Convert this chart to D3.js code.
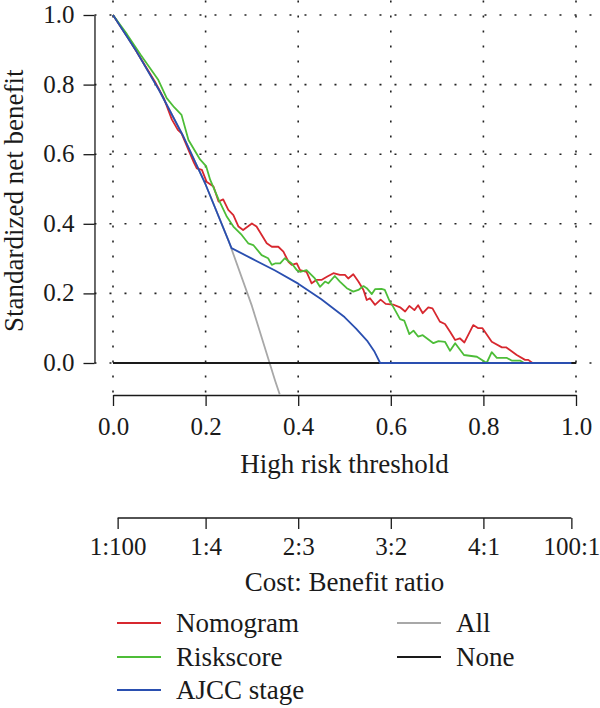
<!DOCTYPE html>
<html>
<head>
<meta charset="utf-8">
<script src="https://cdn.jsdelivr.net/npm/d3@7"></script>
<style>
  html, body { margin: 0; padding: 0; background: #fff; }
</style>
</head>
<body>
<div id="chart-container"></div>
<script>
// threshold / standardized net benefit pairs
const nomogram = [[0,1],[0.03,0.94],[0.06,0.875],[0.09,0.81],[0.11,0.76],[0.127,0.70],[0.14,0.67],[0.148,0.66],
  [0.163,0.612],[0.175,0.575],[0.181,0.559],[0.192,0.555],[0.202,0.521],[0.217,0.507],[0.228,0.464],[0.238,0.47],
  [0.249,0.44],[0.26,0.425],[0.271,0.392],[0.281,0.382],[0.30,0.401],[0.31,0.392],[0.332,0.344],[0.343,0.334],
  [0.357,0.334],[0.368,0.32],[0.379,0.291],[0.386,0.282],[0.397,0.286],[0.404,0.267],[0.418,0.262],[0.429,0.229],
  [0.44,0.239],[0.451,0.239],[0.462,0.248],[0.476,0.258],[0.49,0.253],[0.501,0.253],[0.508,0.243],[0.519,0.255],
  [0.53,0.234],[0.541,0.21],[0.548,0.181],[0.555,0.186],[0.566,0.167],[0.578,0.182],[0.589,0.17],[0.605,0.168],
  [0.62,0.16],[0.631,0.148],[0.64,0.164],[0.651,0.152],[0.659,0.166],[0.669,0.143],[0.681,0.16],[0.69,0.157],
  [0.706,0.119],[0.717,0.112],[0.728,0.09],[0.739,0.066],[0.749,0.071],[0.759,0.059],[0.778,0.109],[0.789,0.1],
  [0.798,0.1],[0.818,0.061],[0.84,0.045],[0.849,0.045],[0.872,0.023],[0.89,0.009],[0.897,0.009],[0.906,0]];

const riskscore = [[0,1],[0.03,0.945],[0.06,0.885],[0.098,0.813],[0.116,0.761],[0.132,0.735],[0.148,0.713],
  [0.163,0.641],[0.188,0.585],[0.201,0.566],[0.21,0.526],[0.228,0.47],[0.246,0.42],[0.26,0.392],[0.278,0.368],
  [0.292,0.344],[0.303,0.339],[0.321,0.31],[0.335,0.301],[0.343,0.282],[0.35,0.286],[0.361,0.286],[0.371,0.301],
  [0.386,0.286],[0.397,0.267],[0.404,0.262],[0.418,0.267],[0.436,0.243],[0.447,0.219],[0.458,0.234],[0.465,0.229],
  [0.479,0.25],[0.49,0.234],[0.505,0.215],[0.519,0.205],[0.53,0.21],[0.541,0.221],[0.548,0.215],[0.559,0.198],
  [0.566,0.212],[0.58,0.213],[0.587,0.21],[0.598,0.176],[0.605,0.162],[0.62,0.126],[0.629,0.122],[0.64,0.083],
  [0.649,0.093],[0.659,0.076],[0.669,0.08],[0.692,0.057],[0.703,0.063],[0.717,0.061],[0.728,0.035],[0.739,0.057],
  [0.758,0.023],[0.786,0.018],[0.807,0],[0.818,0.031],[0.829,0.015],[0.85,0.015],[0.861,0.007],[0.879,0.007],[0.888,0]];

const ajcc = [[0,1],[0.05,0.897],[0.10,0.783],[0.15,0.656],[0.20,0.513],[0.256,0.33],[0.30,0.30],[0.35,0.266],
  [0.40,0.228],[0.45,0.183],[0.50,0.132],[0.525,0.099],[0.55,0.062],[0.565,0.032],[0.577,0],[0.99,0]];

const treatAll = [[0,1],[0.05,0.897],[0.10,0.783],[0.15,0.656],[0.20,0.513],[0.25,0.35],[0.30,0.164],[0.35,-0.05],[0.36,-0.09]];

const treatNone = [[0,0],[1,0]];

const xTicks = [0, 0.2, 0.4, 0.6, 0.8, 1.0];
const yTicks = [0, 0.2, 0.4, 0.6, 0.8, 1.0];
const costTicks = [0.01, 0.2, 0.4, 0.6, 0.8, 0.99];
const costLabels = ["1:100", "1:4", "2:3", "3:2", "4:1", "100:1"];

const legendNames = ["Nomogram", "Riskscore", "AJCC stage", "All", "None"];
const legendColors = ["#d7282f", "#4dbd38", "#2a4fb0", "#a8a8a8", "#1a1a1a"];

// layout
const width = 600, height = 708;
const fontSize = 27;     // titles, legend
const tickFontSize = 25; // tick labels
const serif = "'Liberation Serif'";

const svg = d3.select("#chart-container").append("svg")
    .attr("width", width)
    .attr("height", height);

const x = d3.scaleLinear().domain([0, 1]).range([113, 576]);
const y = d3.scaleLinear().domain([0, 1]).range([363, 15]);

// plot region (R style 4% extension, ylim -0.05..1)
const px0 = x(-0.04), px1 = x(1.04);
const py0 = y(1.042), py1 = y(-0.092);

svg.append("clipPath").attr("id", "plot-clip")
  .append("rect")
    .attr("x", px0).attr("y", py0)
    .attr("width", px1 - px0).attr("height", py1 - py0);

// dotted grid
const grid = svg.append("g")
    .attr("stroke", "#222")
    .attr("stroke-width", 1.6)
    .attr("stroke-dasharray", "2,13");

grid.selectAll(".vgrid").data(xTicks).join("line")
    .attr("class", "vgrid")
    .attr("x1", d => x(d)).attr("x2", d => x(d))
    .attr("y1", py0).attr("y2", py1);

grid.selectAll(".hgrid").data(yTicks).join("line")
    .attr("class", "hgrid")
    .attr("y1", d => y(d)).attr("y2", d => y(d))
    .attr("x1", px0).attr("x2", px1);

// curves
const line = d3.line()
    .x(d => x(d[0]))
    .y(d => y(d[1]));

const curves = svg.append("g").attr("clip-path", "url(#plot-clip)")
    .attr("fill", "none")
    .attr("stroke-linejoin", "round");

curves.append("path").datum(treatAll)
    .attr("d", line).attr("stroke", legendColors[3]).attr("stroke-width", 1.8);
curves.append("path").datum(treatNone)
    .attr("d", line).attr("stroke", legendColors[4]).attr("stroke-width", 1.8);
curves.append("path").datum(nomogram)
    .attr("d", line).attr("stroke", legendColors[0]).attr("stroke-width", 1.8);
curves.append("path").datum(riskscore)
    .attr("d", line).attr("stroke", legendColors[1]).attr("stroke-width", 1.8);
curves.append("path").datum(ajcc)
    .attr("d", line).attr("stroke", legendColors[2]).attr("stroke-width", 1.8);

// text helper
function label(sel, size = fontSize) {
  return sel.style("font-family", serif)
    .style("font-size", size + "px")
    .attr("fill", "#1a1a1a");
}

// axes
function styleAxis(g) {
  g.selectAll("path, line").attr("stroke", "#1a1a1a").attr("stroke-width", 1.3);
  g.selectAll("text").call(label, tickFontSize);
}

const yAxis = svg.append("g")
    .attr("transform", `translate(${px0},0)`)
    .call(d3.axisLeft(y).tickValues(yTicks).tickSize(11).tickSizeOuter(0)
      .tickPadding(9).tickFormat(d3.format(".1f")));
yAxis.call(styleAxis);
yAxis.selectAll("text").attr("dy", "0.3em");

const xAxis = svg.append("g")
    .attr("transform", `translate(0,${py1})`)
    .call(d3.axisBottom(x).tickValues(xTicks).tickSize(11).tickSizeOuter(0)
      .tickPadding(11).tickFormat(d3.format(".1f")));
xAxis.call(styleAxis);

svg.append("text")
    .attr("x", (x(0) + x(1)) / 2)
    .attr("y", 473)
    .attr("text-anchor", "middle")
    .call(label)
    .text("High risk threshold");

const costAxis = svg.append("g")
    .attr("transform", "translate(0,518)")
    .call(d3.axisBottom(x).tickValues(costTicks).tickSize(11)
      .tickPadding(8).tickFormat((d, i) => costLabels[i]));
costAxis.select(".domain").remove();
costAxis.append("line")
    .attr("x1", x(costTicks[0])).attr("x2", x(costTicks[costTicks.length - 1]))
    .attr("y1", 0).attr("y2", 0);
costAxis.call(styleAxis);

svg.append("text")
    .attr("x", (x(0) + x(1)) / 2)
    .attr("y", 591)
    .attr("text-anchor", "middle")
    .call(label)
    .text("Cost: Benefit ratio");

svg.append("text")
    .attr("transform", `translate(23,${(py0 + py1) / 2 + 3}) rotate(-90)`)
    .attr("text-anchor", "middle")
    .call(label)
    .text("Standardized net benefit");

// legend
const legendPos = [[117, 623], [117, 657], [117, 690], [397, 623], [397, 657]];
const legend = svg.append("g");
legendNames.forEach((name, i) => {
  const [lx, ly] = legendPos[i];
  legend.append("line")
      .attr("x1", lx).attr("x2", lx + 44)
      .attr("y1", ly).attr("y2", ly)
      .attr("stroke", legendColors[i])
      .attr("stroke-width", 1.8);
  legend.append("text")
      .attr("x", lx + 59)
      .attr("y", ly)
      .attr("dy", "0.33em")
      .call(label)
      .text(name);
});
</script>
</body>
</html>
